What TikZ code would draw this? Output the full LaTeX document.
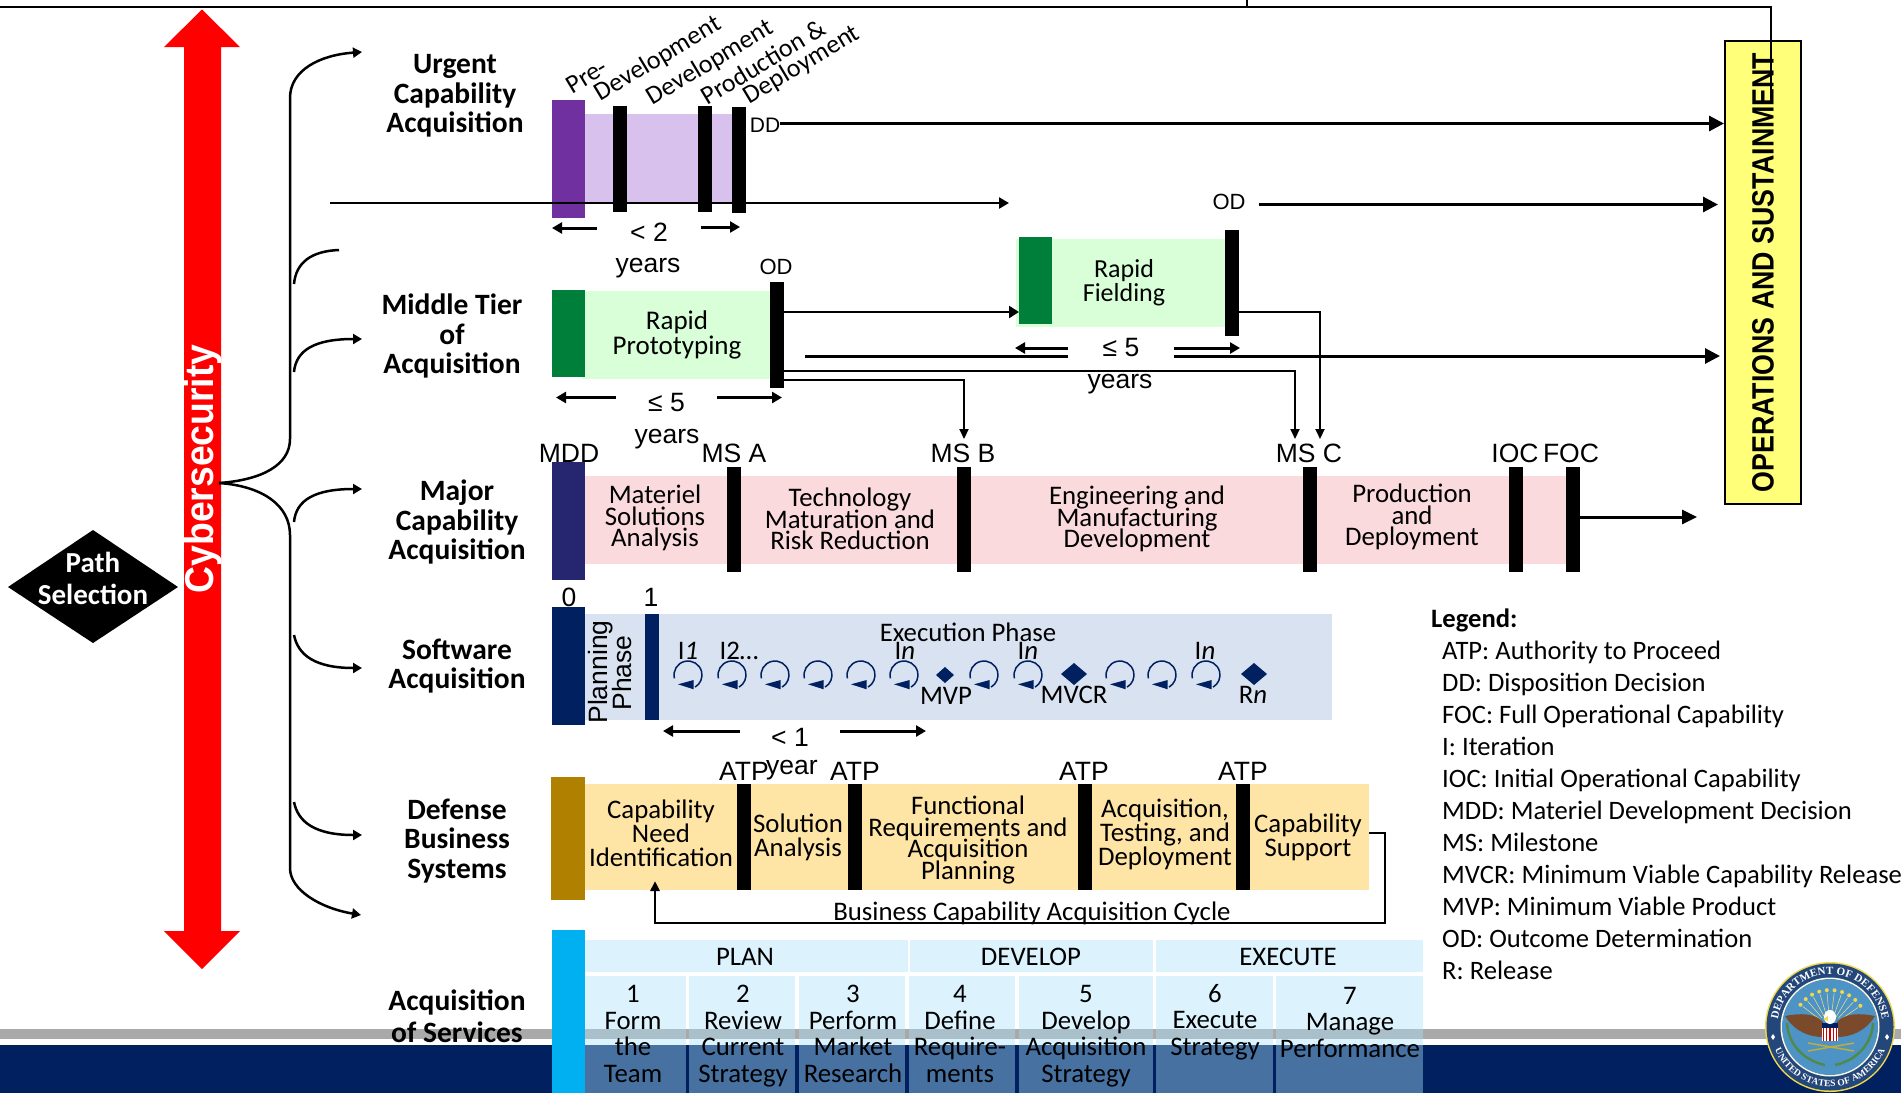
\documentclass[tikz,border=0pt]{standalone}
\usepackage{fontspec}
\setmainfont{Carlito}
\newfontfamily\arifont{Liberation Sans}
\newfontfamily\sealfont{Liberation Serif}
\usetikzlibrary{arrows.meta,decorations.text}
\lineskiplimit=-100pt
\normallineskiplimit=-100pt
\definecolor{navyband}{HTML}{002060}
\definecolor{grayband}{HTML}{A9A9A9}
\definecolor{purpdark}{HTML}{7030A0}
\definecolor{purplite}{HTML}{D8C1EC}
\definecolor{greendark}{HTML}{007F3A}
\definecolor{greenlite}{HTML}{D9FFD9}
\definecolor{mcanavy}{HTML}{262670}
\definecolor{pinklite}{HTML}{FBDADD}
\definecolor{swlite}{HTML}{D9E2F1}
\definecolor{goldd}{HTML}{B08000}
\definecolor{goldl}{HTML}{FFE5A5}
\definecolor{cyanb}{HTML}{00B0F0}
\definecolor{cellc}{HTML}{ABE2FC}
\definecolor{opsy}{HTML}{FFFF79}
\definecolor{sealnavy}{HTML}{23477A}
\definecolor{sealblue}{HTML}{4E93C6}
\definecolor{sealbrown}{HTML}{7A4A2A}
\definecolor{sealgold}{HTML}{EFD84A}
\definecolor{sealgreen}{HTML}{4E8A4A}
\tikzset{
  rbx/.style={inner sep=0pt,outer sep=0pt,draw=none},
  lab/.style={inner sep=0pt,outer sep=0pt,align=center,font=\fontsize{26.8}{21.5}\selectfont},
  labw/.style={inner sep=0pt,outer sep=0pt,align=center,font=\fontsize{26.8}{24}\selectfont},
  tab/.style={inner sep=0pt,outer sep=0pt,align=center,font=\fontsize{26.8}{26.5}\selectfont},
  boldl/.style={inner sep=0pt,outer sep=0pt,align=center,font=\fontsize{29.5}{29.3}\selectfont\bfseries},
  ari/.style={inner sep=0pt,outer sep=0pt,align=center,font=\fontsize{26.5}{26}\selectfont\arifont},
  rotl/.style={inner sep=0pt,outer sep=0pt,rotate=31,font=\fontsize{26}{25}\selectfont},
  arrbig/.style={line width=3pt,-{Triangle[length=15pt,width=15pt]}},
  arrmid/.style={line width=3pt,-{Triangle[length=10pt,width=11pt]}},
  arrthin/.style={line width=2pt,-{Triangle[length=10pt,width=9pt]}},
  brace/.style={line width=2.5pt,black},
  bracea/.style={line width=2.5pt,-{Triangle[length=9pt,width=10pt]}},
  loopc/.style={line width=1.5pt,navyband},
}
\newcommand\rbox[6]{\pgfmathsetmacro\bw{#5-#3}\pgfmathsetmacro\bh{#6-#4}\node[rbx,fill=#2,minimum width=\bw pt,minimum height=\bh pt] (#1) at ({(#3+#5)/2},{(#4+#6)/2}) {};}
\newcommand\tcell[6]{\pgfmathsetmacro\bw{#5-#3}\pgfmathsetmacro\bh{#6-#4}\node[rbx,fill=cellc,fill opacity=.42,minimum width=\bw pt,minimum height=\bh pt] (#1) at ({(#3+#5)/2},{(#4+#6)/2}) {};}
\begin{document}
\begin{tikzpicture}[x=1pt,y=-1pt]
\useasboundingbox (0,0) rectangle (1901,1093);
% footer
\rbox{graybar}{grayband}{0}{1029}{1901}{1039}
\rbox{navybar}{navyband}{0}{1044.5}{1901}{1093}
% top line
\coordinate (topl) at (0,7);
\coordinate (topr) at (1771,7);
\coordinate (topt) at (1247,0);
\coordinate (topb) at (1247,7);
% red arrow
\path[fill=red] (202,9.5) -- (240,47) -- (221,47) -- (221,931) -- (240,931) -- (202,969) -- (164,931) -- (184,931) -- (184,47) -- (164,47) -- cycle;
\node[inner sep=0pt,rotate=90,text=white,font=\fontsize{37.3}{38}\selectfont\arifont\bfseries] (cyber) at (203,469) {\scalebox{1}[1.08]{Cybersecurity}};
% diamond
\path[fill=black] (8,587) -- (93,530) -- (178,587) -- (93,643) -- cycle;
\node[lab,text=white,font=\fontsize{29}{32}\selectfont\bfseries] (pathsel) at (93,578) {Path\\Selection};
% braces
\coordinate (bs) at (219,483);
\coordinate (e1) at (362,52);
\coordinate (e6) at (361,915);
\draw[bracea] (bs) .. controls (262,480) and (290,465) .. (290,439) -- (290,98) .. controls (290,70) and (320,55) .. (e1);
\draw[bracea] (bs) .. controls (262,486) and (290,505) .. (290,535) -- (290,868) .. controls (290,890) and (320,908) .. (e6);
\draw[brace] (294,284) .. controls (296,262) and (312,251) .. (339,250);
\draw[bracea] (294,372) .. controls (296,350) and (315,339) .. (362,339);
\draw[bracea] (294,522) .. controls (296,500) and (315,489) .. (362,489);
\draw[bracea] (294,635) .. controls (298,655) and (315,668) .. (362,668);
\draw[bracea] (294,802) .. controls (298,822) and (315,835) .. (362,835);
% bold titles
\node[boldl] (t1) at (455,96) {Urgent\\Capability\\Acquisition};
\node[boldl] (t2) at (452,336) {Middle Tier\\of\\Acquisition};
\node[boldl] (t3) at (457,522) {Major\\Capability\\Acquisition};
\node[boldl] (t4) at (457,666) {Software\\Acquisition};
\node[boldl] (t5) at (457,841) {Defense\\Business\\Systems};
\node[boldl,font=\fontsize{29.5}{32}\selectfont\bfseries] (t6) at (457,1016) {Acquisition\\of Services};
% urgent band
\rbox{ulite}{purplite}{585}{114}{733}{202}
\rbox{upurp}{purpdark}{552}{100}{585}{218}
\rbox{ub1}{black}{613}{106}{627}{212}
\rbox{ub2}{black}{698}{106}{712}{212}
\rbox{ub3}{black}{732}{107}{746}{213}
\node[rotl] (rp1) at (587,76) {Pre-};
\node[rotl] (rp2) at (658,59) {Development};
\node[rotl] (rp3) at (710,63) {Development};
\node[rotl] (rp4) at (763,62) {Production \&};
\node[rotl] (rp5) at (802,65) {Deployment};
\node[ari,font=\fontsize{21}{21}\selectfont\arifont] (dd) at (765,125) {DD};
\draw[arrbig] (dd.east |- 0,123.5) -- (1724,123.5) coordinate (opsin1);
\coordinate (hl) at (330,203);
\draw[arrmid,line width=2.5pt] (hl) -- (1009,203);
\node[ari,minimum width=104pt] (lt2) at (649,232) {< 2};
\draw[arrmid] (lt2.west |- 0,228) -- (552,228);
\draw[arrmid] (lt2.east |- 0,227) -- (740,227);
\node[ari] (y1) at (648,268) {years};
\node[ari,font=\fontsize{22}{22}\selectfont\arifont] (od2) at (1229,202) {OD};
\draw[arrbig] (1259,204.5) -- (1718,204.5);
% rapid prototyping
\rbox{rplite}{greenlite}{582}{291}{770}{379}
\rbox{rpgreen}{greendark}{552}{290}{585}{377}
\rbox{rpbar}{black}{770}{282}{784}{388}
\node[labw,font=\fontsize{27}{25}\selectfont] (rptxt) at (677,335) {Rapid\\Prototyping};
\node[ari,font=\fontsize{22}{22}\selectfont\arifont] (od1) at (776,267) {OD};
\node[ari,minimum width=101pt] (le5a) at (666.5,403) {≤ 5};
\draw[arrmid] (le5a.west |- 0,397.5) -- (556,397.5);
\draw[arrmid] (le5a.east |- 0,397.5) -- (782,397.5);
\node[ari] (y2) at (667,439) {years};
% rapid fielding
\rbox{rflite}{greenlite}{1016}{239}{1225}{327}
\rbox{rfgreen}{greendark}{1019}{237}{1052}{324}
\rbox{rfbar}{black}{1225}{230}{1239}{336}
\node[labw,font=\fontsize{26}{24}\selectfont] (rftxt) at (1124,283) {Rapid\\Fielding};
\draw[arrbig,line width=2.5pt,-{Triangle[length=10pt,width=12pt]}] (rpbar.east |- 0,312) -- (rfgreen.west |- 0,312);
\draw[arrbig] (805,356) -- (1720,356);
\node[ari,fill=white,minimum width=106pt,minimum height=27pt] (le5b) at (1121,348) {≤ 5};
\draw[arrmid] (le5b.west |- 0,348) -- (1015,348);
\draw[arrmid] (le5b.east |- 0,348) -- (1240,348);
\node[ari] (y3) at (1120,384) {years};
% major band
\rbox{mlite}{pinklite}{585}{476}{1566}{564}
\rbox{mnavy}{mcanavy}{552}{462}{585}{580}
\rbox{mb1}{black}{727}{467}{741}{572}
\rbox{mb2}{black}{957}{467}{971}{572}
\rbox{mb3}{black}{1303}{467}{1317}{572}
\rbox{mb4}{black}{1509}{467}{1523}{572}
\rbox{mb5}{black}{1566}{467}{1580}{572}
\node[ari] (mdd) at (569,453) {MDD};
\node[ari] (msa) at (734,453) {MS A};
\node[ari] (msb) at (963,453) {MS B};
\node[ari] (msc) at (1309,453) {MS C};
\node[ari] (ioc) at (1515,453) {IOC};
\node[ari] (foc) at (1571,453) {FOC};
\node[lab] (m1) at (655,518) {Materiel\\Solutions\\Analysis};
\node[lab] (m2) at (850,519) {Technology\\Maturation and\\Risk Reduction};
\node[lab] (m3) at (1137,519) {Engineering and\\Manufacturing\\Development};
\node[lab] (m4) at (1412,517) {Production\\and\\Deployment};
\draw[arrbig,-{Triangle[length=15pt,width=14pt]}] (mb5.east |- 0,517) -- (1697,517);
\draw[arrthin] (rpbar.east |- 0,380) -| (964,439);
\draw[arrthin] (rpbar.east |- 0,371) -| (1295,439);
\draw[arrthin] (rfbar.east |- 0,312) -| (1320,439);
% software
\rbox{slite}{swlite}{585}{614}{1332}{720}
\rbox{snavy}{navyband}{552}{607}{585}{725}
\rbox{sbar}{navyband}{645}{614}{659}{720}
\node[ari] (s0) at (569,597) {0};
\node[ari] (s1) at (651,597) {1};
\node[ari,rotate=90] (pl) at (601,672) {Planning};
\node[ari,rotate=90] (ph) at (622,673) {Phase};
\node[lab] (ex) at (968,632) {Execution Phase};
\node[lab] (i1) at (688,651) {I\textit{1}};
\node[lab] (i2) at (739,651) {I2…};
\node[lab] (i3) at (905,651) {I\textit{n}};
\node[lab] (i4) at (1028,651) {I\textit{n}};
\node[lab] (i5) at (1205,651) {I\textit{n}};
\foreach \lx in {688,732,775,818,861,904,984,1028,1120,1162,1206}{
  \begin{scope}[shift={(\lx,675)},x=1pt,y=1pt]
    \draw[loopc] (194:14) arc (194:-60:14);
    \path[fill=navyband] (-10,-9.3) -- (5.7,-5) -- (5.7,-14.3) -- cycle;
  \end{scope}
}
\path[fill=navyband] (936,675) -- (945,667) -- (954,675) -- (945,683) -- cycle;
\path[fill=navyband] (1061,674) -- (1074,663) -- (1087,674) -- (1074,685) -- cycle;
\path[fill=navyband] (1241,674) -- (1254,663) -- (1267,674) -- (1254,685) -- cycle;
\node[lab] (mvp) at (946,696) {MVP};
\node[lab] (mvcr) at (1074,695) {MVCR};
\node[lab] (rn) at (1253,695) {R\textit{n}};
\node[ari,minimum width=100pt] (lt1) at (790,737) {< 1};
\draw[arrmid] (lt1.west |- 0,731) -- (663,731);
\draw[arrmid] (lt1.east |- 0,731) -- (926,731);
\node[ari] (yr) at (792,770) {year};
% defense
\rbox{dlite}{goldl}{585}{784}{1369}{890}
\rbox{dgold}{goldd}{551}{777}{585}{900}
\rbox{db1}{black}{737}{784}{751}{890}
\rbox{db2}{black}{848}{784}{862}{890}
\rbox{db3}{black}{1078}{784}{1092}{890}
\rbox{db4}{black}{1236}{784}{1250}{890}
\node[ari] (a1) at (744,771) {ATP};
\node[ari] (a2) at (855,771) {ATP};
\node[ari] (a3) at (1084,771) {ATP};
\node[ari] (a4) at (1243,771) {ATP};
\node[labw] (d1) at (661,833) {Capability\\Need\\Identification};
\node[labw] (d2) at (798,837) {Solution\\Analysis};
\node[lab,font=\fontsize{26.8}{21.5}\selectfont] (d3) at (968,840) {Functional\\Requirements and\\Acquisition\\Planning};
\node[labw] (d4) at (1165,834) {Acquisition,\\Testing, and\\Deployment};
\node[labw] (d5) at (1308,837) {Capability\\Support};
\draw[arrthin,line width=2.5pt] (dlite.east |- 0,833) -- (1385,833) -- (1385,923) -- (655,923) -- (655,881);
\node[lab] (cyc) at (1032,913) {Business Capability Acquisition Cycle};
% acquisition of services
\tcell{hp}{}{585}{940}{908}{972}
\tcell{hd}{}{910}{940}{1153}{972}
\tcell{he}{}{1156}{940}{1423}{972}
\tcell{c1}{}{585}{976}{686}{1093}
\tcell{c2}{}{689}{976}{795}{1093}
\tcell{c3}{}{799}{976}{905}{1093}
\tcell{c4}{}{909}{976}{1015}{1093}
\tcell{c5}{}{1019}{976}{1153}{1093}
\tcell{c6}{}{1156}{976}{1273}{1093}
\tcell{c7}{}{1276}{976}{1423}{1093}
\rbox{ablue}{cyanb}{552}{930}{585}{1093}
\node[tab] (thp) at (745,957) {PLAN};
\node[tab] (thd) at (1031,957) {DEVELOP};
\node[tab] (the) at (1288,957) {EXECUTE};
\node[tab] (tc1) at (633,1034) {1\\Form\\the\\Team};
\node[tab] (tc2) at (743,1036) {2\\Review\\Current\\Strategy};
\node[tab] (tc3) at (853,1034) {3\\Perform\\Market\\Research};
\node[tab] (tc4) at (960,1034) {4\\Define\\Require-\\ments};
\node[tab] (tc5) at (1086,1036) {5\\Develop\\Acquisition\\Strategy};
\node[tab] (tc6) at (1215,1022) {6\\Execute\\Strategy};
\node[tab] (tc7) at (1350,1022) {7\\Manage\\Performance};
% ops box
\node[rbx,draw=black,line width=2pt,fill=opsy,minimum width=76pt,minimum height=463pt] (ops) at (1763,272.5) {};
\node[inner sep=0pt,rotate=90,font=\fontsize{26.8}{27}\selectfont\arifont\bfseries] (opst) at (1763,272.5) {\scalebox{1}[1.15]{OPERATIONS AND SUSTAINMENT}};
\draw[line width=2.5pt] (topl) -- (topr) -- (1771,100);
\draw[line width=2.5pt] (topt) -- (topb);
% legend
\node[inner sep=0pt,anchor=west,font=\fontsize{26.6}{32}\selectfont\bfseries] (lh) at (1431,620) {Legend:};
\node[inner sep=0pt,anchor=west,align=left,font=\fontsize{26.6}{32}\selectfont] (lb) at (1442,810) {ATP: Authority to Proceed\\DD: Disposition Decision\\FOC: Full Operational Capability\\I: Iteration\\IOC: Initial Operational Capability\\MDD: Materiel Development Decision\\MS: Milestone\\MVCR: Minimum Viable Capability Release\\MVP: Minimum Viable Product\\OD: Outcome Determination\\R: Release};
% seal
\begin{scope}[shift={(1830,1027)},x=1pt,y=1pt]
  \fill[sealgold] (0,0) circle (65);
  \fill[sealnavy] (0,0) circle (63.5);
  \fill[white!85!sealgold] (0,0) circle (49.5);
  \fill[sealblue] (0,0) circle (48);
  \foreach \a in {35,47,...,145}{
    \draw[sealgold!70!white,line width=.5pt] (\a:12) -- (\a:34);
    \fill[sealgold] (\a:37) circle (2);
  }
  \path[decorate,decoration={text along path,text align=center,text={|\fontsize{11}{11}\selectfont\sealfont\bfseries\color{white}|DEPARTMENT OF DEFENSE}}] (185:52.5) arc (185:-5:52.5);
  \path[decorate,decoration={text along path,text align=center,text={|\fontsize{9.5}{9.5}\selectfont\sealfont\bfseries\color{white}|UNITED STATES OF AMERICA}}] (190:59.5) arc (190:350:59.5);
  \fill[white] (-57,-7) -- (-55,-10) -- (-57,-13) -- (-59,-10) -- cycle;
  \fill[white] (57,-7) -- (55,-10) -- (57,-13) -- (59,-10) -- cycle;
  \draw[sealgreen,line width=2.5pt] (-43,4) .. controls (-42,-18) and (-25,-34) .. (-5,-38);
  \draw[sealgreen,line width=2.5pt] (43,4) .. controls (42,-18) and (25,-34) .. (5,-38);
  \fill[sealbrown] (-45,11) .. controls (-30,14) and (-15,14) .. (-7,5) -- (-7,-10) .. controls (-20,-10) and (-35,-5) .. cycle;
  \fill[sealbrown] (45,11) .. controls (30,14) and (15,14) .. (7,5) -- (7,-10) .. controls (20,-10) and (35,-5) .. cycle;
  \fill[white] (-8,-14) rectangle (8,-1);
  \foreach \sx in {-6.5,-3.25,0,3.25,6.5}{\draw[red!80!black,line width=1.4pt] (\sx,-14) -- (\sx,-1);}
  \fill[navyband] (-8,-1) rectangle (8,4);
  \fill[white] (0,10) ellipse (6 and 7);
  \fill[sealgold] (-7,8) -- (-2,11) -- (-2,6) -- cycle;
  \draw[sealgold!80!black,line width=1.5pt] (-22,-24) -- (24,-16);
  \draw[sealgold!80!black,line width=1.5pt] (-22,-16) -- (24,-24);
\end{scope}
\end{tikzpicture}
\end{document}
